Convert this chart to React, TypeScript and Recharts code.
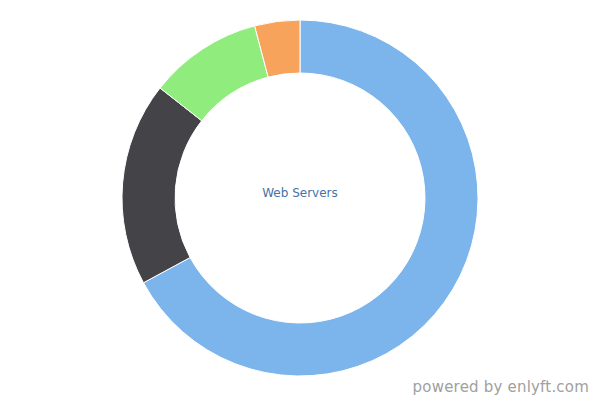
import React from 'react';
import { PieChart, Pie, Cell, Label } from 'recharts';

const servers = ['Apache', 'Microsoft IIS', 'Nginx', 'Others'];
const shares = [67.1, 18.5, 10.3, 4.1];
const colors = ['#7cb5ec', '#434348', '#90ed7d', '#f7a35c'];

const data = servers.map((name, i) => ({ name, value: shares[i] }));

export default function App() {
  return (
    <div style={{ position: 'absolute', left: 0, top: 0, width: 600, height: 400, background: '#fff' }}>
      <PieChart width={600} height={400} margin={{ top: 0, right: 0, bottom: 0, left: 0 }}>
        <Pie
          data={data}
          dataKey="value"
          nameKey="name"
          cx={300}
          cy={198}
          innerRadius={125}
          outerRadius={178}
          startAngle={90}
          endAngle={-270}
          stroke="#ffffff"
          strokeWidth={1}
          isAnimationActive={false}
        >
          {data.map((d, i) => (
            <Cell key={d.name} fill={colors[i]} />
          ))}
          <Label
            content={({ viewBox }: any) => (
              <text
                x={viewBox.cx}
                y={viewBox.cy - 1}
                textAnchor="middle"
                fill="#4572a7"
                style={{ fontFamily: '"DejaVu Sans", sans-serif', fontSize: 12 }}
              >
                Web Servers
              </text>
            )}
          />
        </Pie>
      </PieChart>
      <div
        style={{
          position: 'absolute',
          right: 11,
          top: 378,
          fontFamily: '"DejaVu Sans", sans-serif',
          fontSize: 15,
          color: '#a0a0a0',
          letterSpacing: 0.2,
        }}
      >
        powered by enlyft.com
      </div>
    </div>
  );
}
